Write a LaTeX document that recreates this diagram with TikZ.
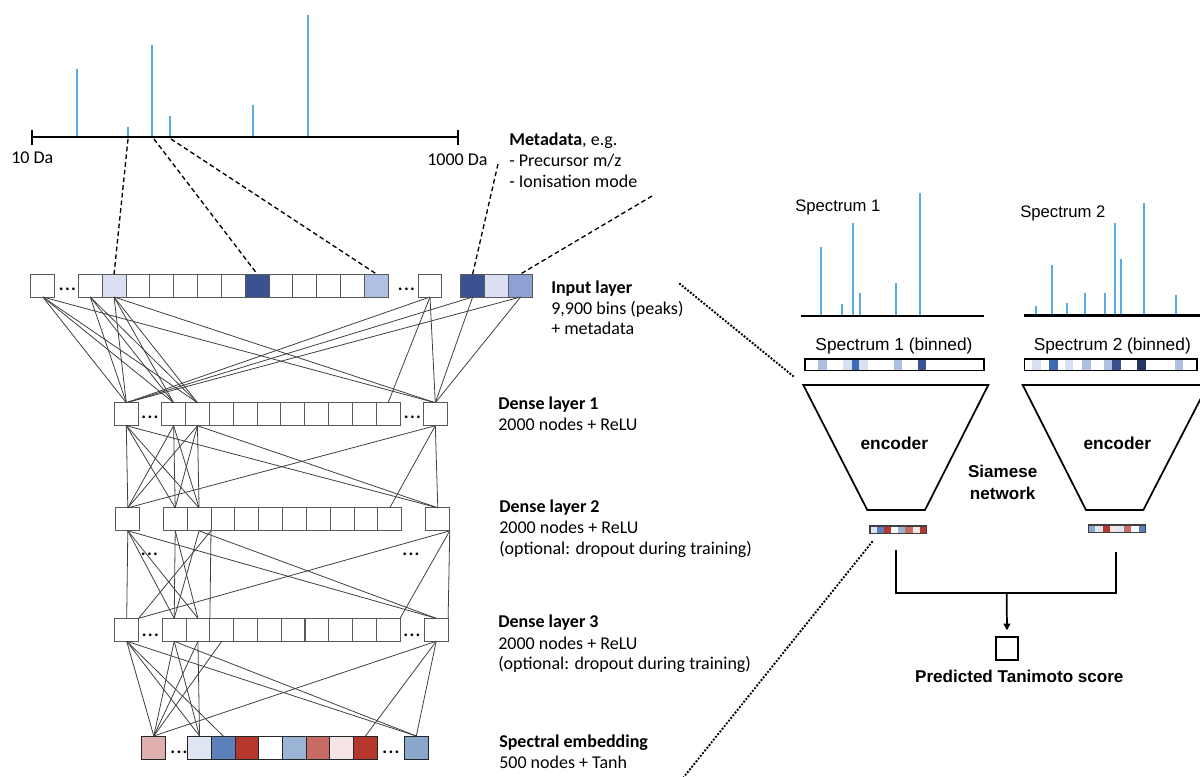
\documentclass[tikz,border=0pt]{standalone}
\usepackage{fontspec}
\setmainfont{Carlito}
\newfontfamily\arialfont{Liberation Sans}
\usetikzlibrary{arrows.meta}

\definecolor{peakblue}{HTML}{5AAAE6}
\definecolor{binlight}{HTML}{DAE0F1}
\definecolor{binmid}{HTML}{B0C0E2}
\definecolor{bindark}{HTML}{3C5290}
\definecolor{binmeta}{HTML}{8FA1D4}
\definecolor{binblue}{HTML}{3D6BB8}
\definecolor{bindeep}{HTML}{263560}
\definecolor{embpink}{HTML}{E0B0B0}
\definecolor{embpale}{HTML}{DFE6F1}
\definecolor{embblue}{HTML}{5B80BA}
\definecolor{embred}{HTML}{B5372E}
\definecolor{embsky}{HTML}{9BB4D6}
\definecolor{embsalmon}{HTML}{C86B64}
\definecolor{embrose}{HTML}{F5E5E7}
\definecolor{embsteel}{HTML}{8AA6CC}
\definecolor{cellline}{HTML}{5A5A5A}
\definecolor{wireline}{HTML}{404040}

\begin{document}
\begin{tikzpicture}[x=0.75pt, y=-0.75pt,
  cell/.style={draw=cellline, line width=0.7pt, minimum width=17.9pt,
    minimum height=17.25pt, inner sep=0pt, outer sep=0pt},
  embcell/.style={cell, draw=black!85},
  wire/.style={draw=wireline, line width=0.6pt},
  gap/.style={anchor=base, inner sep=0pt, font=\bfseries\fontsize{13.5}{16}\selectfont},
  lab/.style={anchor=base west, inner sep=0pt, font=\fontsize{13.5}{16}\selectfont},
  peak/.style={draw=peakblue, line width=1.6pt},
  axisline/.style={line width=2pt},
  zoomdash/.style={line width=1pt, dash pattern=on 3.5pt off 2.3pt},
  zoomdot/.style={line width=2pt, dash pattern=on 0pt off 2.6pt, line cap=round},
  binbar/.style={draw=black, line width=1pt},
  encoder/.style={line width=1.3pt, line join=miter},
  rlab/.style={inner sep=0pt, font=\arialfont\fontsize{12.5}{15}\selectfont},
  rbold/.style={inner sep=0pt, align=center, font=\arialfont\bfseries\fontsize{12.8}{16.2}\selectfont}
]
\useasboundingbox (0,0) rectangle (1200,776);

% ───────── Top spectrum (10 Da – 1000 Da) ─────────
\draw[axisline] (32,137) -- (458,137);
\draw[line width=1pt] (32,130) -- (32,145) (458,130) -- (458,145);
\foreach \x/\top in {77/69, 128/127, 152/45, 170/116, 253/105, 308/15}
  \draw[peak] (\x,136) -- (\x,\top);
\node[lab] (lowmz) at (11,163.5) {10 Da};
\node[lab] (highmz) at (427,165.5) {1000 Da};
\coordinate (pkA) at (128,139);
\coordinate (pkB) at (154,139);
\coordinate (pkC) at (171,139);

% metadata
\node[lab] (meta1) at (509,145.7) {\textbf{Metadata}, e.g.};
\node[lab] (meta2) at (509,166.7) {- Precursor m/z};
\node[lab] (meta3) at (509,187.3) {- Ionisation mode};
\coordinate (metaA) at (498,164);
\coordinate (metaB) at (652,196);

% ───────── Input layer ─────────
\node[cell] (i0) at (42.8,285.5) {};
\node[gap] (idots1) at (67.5,290.5) {.\kern1pt.\kern1pt.};
\foreach \k/\col in {1/white,2/binlight,3/white,4/white,5/white,6/white,7/white,
                     8/bindark,9/white,10/white,11/white,12/white,13/binmid}
  \node[cell, fill=\col] (ig\k) at ({78.3+(\k-0.5)*23.85},285.5) {};
\node[gap] (idots2) at (406.5,290.5) {.\kern1pt.\kern1pt.};
\node[cell] (iL) at (430,285.5) {};
\foreach \k/\col in {1/bindark,2/binlight,3/binmeta}
  \node[cell, fill=\col] (im\k) at ({460.7+(\k-0.5)*23.95},285.5) {};

% ───────── Dense layer 1 ─────────
\node[cell] (d1a) at (126.3,414.2) {};
\node[gap] (d1dots1) at (150,418) {.\kern1pt.\kern1pt.};
\foreach \k in {1,...,10}
  \node[cell] (d1g\k) at ({161.7+(\k-0.5)*23.83},414.2) {};
\node[gap] (d1dots2) at (412.5,418) {.\kern1pt.\kern1pt.};
\node[cell] (d1L) at (435.3,414.2) {};

% ───────── Dense layer 2 ─────────
\node[cell] (d2a) at (127.8,519.3) {};
\foreach \k in {1,...,10}
  \node[cell] (d2g\k) at ({163.3+(\k-0.5)*23.84},519.3) {};
\node[cell] (d2L) at (437.8,519.3) {};
\node[gap] (d2dots1) at (149.5,555) {.\kern1pt.\kern1pt.};
\node[gap] (d2dots2) at (411,555) {.\kern1pt.\kern1pt.};

% ───────── Dense layer 3 ─────────
\node[cell] (d3a) at (126.7,629.8) {};
\node[gap] (d3dots1) at (150.3,636.2) {.\kern1pt.\kern1pt.};
\foreach \k in {1,...,10}
  \node[cell] (d3g\k) at ({162.3+(\k-0.5)*23.77},629.8) {};
\node[gap] (d3dots2) at (412,636.2) {.\kern1pt.\kern1pt.};
\node[cell] (d3L) at (436.2,629.8) {};

% ───────── Spectral embedding ─────────
\node[embcell, fill=embpink] (ea) at (153.8,747.5) {};
\node[gap] (edots1) at (179,753) {.\kern1pt.\kern1pt.};
\foreach \k/\col in {1/embpale,2/embblue,3/embred,4/white,5/embsky,6/embsalmon,7/embrose,8/embred}
  \node[embcell, fill=\col] (eg\k) at ({187.7+(\k-0.5)*23.7},747.5) {};
\node[gap] (edots2) at (391,753) {.\kern1pt.\kern1pt.};
\node[embcell, fill=embsteel] (eL) at (416.3,747.5) {};

% ───────── Connections ─────────
\foreach \s/\t in {i0/d1a, i0/d1g1, i0/d1g2, i0/d1L, ig1/d1a, ig1/d1g1, ig1/d1g2,
                   ig2/d1a, ig2/d1g1, ig2/d1g2, ig2/d1L, iL/d1a, iL/d1g10, iL/d1L,
                   im1/d1a, im1/d1L, im3/d1a, im3/d1L}
  \draw[wire] (\s.south) -- (\t.north);
\foreach \s/\t in {d1a/d2a, d1a/d2g1, d1a/d2g2, d1a/d2L, d1g1/d2a, d1g1/d2g1, d1g1/d2g2,
                   d1g2/d2a, d1g2/d2g1, d1g2/d2g2, d1g2/d2L, d1L/d2a, d1L/d2g10, d1L/d2L}
  \draw[wire] (\s.south) -- (\t.north);
\foreach \s/\t in {d2a.south/d3a.north, d2a.south/d3g1.north, d2a.south/d3g2.north,
                   d2a.south/d3L.north, d2g1.south/d3g1.north, d2g1.south/d3g2.north,
                   d2g2.south/d3g1.north, d2g2.south/d3L.north,
                   d2g2.south east/d3a.north east, d2g2.south east/d3g2.north east,
                   d2L.south east/d3a.north east, d2L.south east/d3g10.north east,
                   d2L.south east/d3L.north east}
  \draw[wire] (\s) -- (\t);
\foreach \s/\t in {d3a/ea, d3a/eg1, d3a/eg2, d3a/eL, d3g1/ea, d3g1/eg1, d3g1/eL,
                   d3g2/ea, d3g2/eg1, d3g3/ea, d3L/ea, d3L/eg8, d3L/eL}
  \draw[wire] (\s.south) -- (\t.north);

% zoom-in dashes from spectrum to bins
\draw[zoomdash] (pkA) -- (ig2.north);
\draw[zoomdash] (pkB) -- (ig8.north);
\draw[zoomdash] (pkC) -- (ig13.north);
\draw[zoomdash] (metaA) -- (im1.north);
\draw[zoomdash] (metaB) -- (im3.north);

% ───────── Layer labels ─────────
\node[lab] (inlab1) at (551,293) {\textbf{Input layer}};
\node[lab] (inlab2) at (551,314.3) {9,900 bins (peaks)};
\node[lab] (inlab3) at (551,334.5) {+ metadata};
\node[lab] (d1lab1) at (498,409) {\textbf{Dense layer 1}};
\node[lab] (d1lab2) at (498,430) {2000 nodes + ReLU};
\node[lab] (d2lab1) at (499,512.3) {\textbf{Dense layer 2}};
\node[lab] (d2lab2) at (499,533.5) {2000 nodes + ReLU};
\node[lab] (d2lab3) at (499,554.3) {(optional: dropout during training)};
\node[lab] (d3lab1) at (498,627.7) {\textbf{Dense layer 3}};
\node[lab] (d3lab2) at (498,649) {2000 nodes + ReLU};
\node[lab] (d3lab3) at (498,669.3) {(optional: dropout during training)};
\node[lab] (elab1) at (499,747.7) {\textbf{Spectral embedding}};
\node[lab] (elab2) at (499,768.3) {500 nodes + Tanh};

% ───────── Siamese network (right) ─────────
\coordinate (zin) at (680,284);
\coordinate (zbin) at (793,376);
\coordinate (zemb) at (872,542);
\coordinate (zout) at (683,778);
\draw[zoomdot] (zin) -- (zbin);
\draw[zoomdot] (zemb) -- (zout);

% spectrum 1
\node[rlab, anchor=west] (spec1) at (795,207) {Spectrum 1};
\draw[axisline] (800.7,316) -- (984,316);
\foreach \x/\top in {820.7/246.7, 842.3/304, 853/222.7, 860/293.3, 896/282.7, 920.3/193.3}
  \draw[peak] (\x,315) -- (\x,\top);
% spectrum 2
\node[rlab, anchor=west] (spec2) at (1020,213) {Spectrum 2};
\draw[axisline] (1024.3,315.3) -- (1200,315.3);
\foreach \x/\top in {1035.7/306, 1052/265, 1067.3/303.3, 1085/292.7, 1105.3/293.3,
                     1115.3/222.7, 1120.7/259.3, 1144.3/203.3, 1176.3/295.3}
  \draw[peak] (\x,314.3) -- (\x,\top);

% binned spectra
\node[rlab, font=\arialfont\fontsize{13}{15}\selectfont] (bin1) at (894,346) {Spectrum 1 (binned)};
\node[rlab, font=\arialfont\fontsize{13}{15}\selectfont] (bin2) at (1112.3,346) {Spectrum 2 (binned)};
\foreach \a/\b/\col in {817.7/826.7/binmid, 843/851.7/binlight, 851.7/859.3/binblue,
                        859.3/867.7/binlight, 894/902.3/binmid, 918/926/bindark}
  \fill[\col] (\a,359) rectangle (\b,370.3);
\draw[binbar] (805,359) rectangle (984,370.3);
\foreach \a/\b/\col in {1031.7/1040.7/binlight, 1048.7/1057.7/binblue, 1065/1073.3/binlight,
                        1082/1091/binmid, 1104.3/1112.3/binmid, 1112.3/1121.3/bindark,
                        1136.7/1145.7/bindeep, 1175/1183.3/binmid}
  \fill[\col] (\a,359) rectangle (\b,370.3);
\draw[binbar] (1024.3,359) rectangle (1197,370.3);

% encoders
\draw[encoder] (803.3,385) -- (988.3,385) -- (925,510) -- (867.3,510) -- cycle;
\draw[encoder] (1022.7,385) -- (1207.7,385) -- (1143.3,510) -- (1086,510) -- cycle;
\node[rbold, font=\arialfont\bfseries\fontsize{13}{16}\selectfont] (enc1) at (894.3,443.3) {encoder};
\node[rbold, font=\arialfont\bfseries\fontsize{13}{16}\selectfont] (enc2) at (1117.3,443.3) {encoder};
\node[rbold] (siamese) at (1002.7,482.5) {Siamese\\network};

% embeddings of the two spectra
\foreach \k/\col in {1/embpale,2/embblue,3/embred,4/white,5/embsky,6/embsalmon,7/embrose,8/embred}
  \fill[\col] ({870+(\k-1)*7.09},526) rectangle ({870+\k*7.09},533.3);
\draw[line width=0.8pt, draw=black!75] (870,526) rectangle (926.7,533.3);
\foreach \k/\col in {1/embsteel,2/embpale,3/embred,4/embrose,5/embpale,6/embsalmon,7/white,8/embblue}
  \fill[\col] ({1088.3+(\k-1)*7.18},525) rectangle ({1088.3+\k*7.18},532.3);
\draw[line width=0.8pt, draw=black!75] (1088.3,525) rectangle (1145.7,532.3);

% score
\coordinate (join1) at (896,550);
\coordinate (join2) at (1115.7,551.7);
\coordinate (merge) at (1006.7,593.3);
\node[draw, line width=1.5pt, minimum width=16.5pt, minimum height=17.25pt, inner sep=0pt] (score) at (1007,648.2) {};
\draw[line width=1.3pt] (join1) |- (merge) -| (join2);
\draw[line width=1.3pt, -{Triangle[length=5pt, width=5pt]}, shorten >=4pt] (merge) -- (score.north);
\node[rbold] (scorelab) at (1019.3,676) {Predicted Tanimoto score};

\end{tikzpicture}
\end{document}
